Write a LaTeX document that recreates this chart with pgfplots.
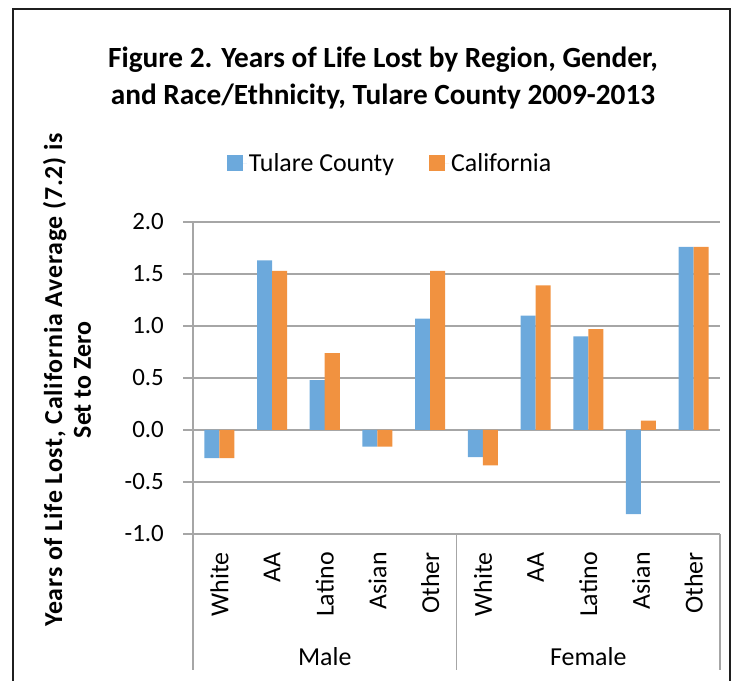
\documentclass[border=0pt]{standalone}
\usepackage{pgfplots}
\pgfplotsset{compat=1.18}
\usepackage{fontspec}
\setmainfont{Carlito}
\definecolor{tblue}{RGB}{108,169,220}
\definecolor{corange}{RGB}{241,146,64}
\definecolor{axgray}{RGB}{166,166,166}
\begin{document}
\begin{tikzpicture}[x=1bp,y=1bp]
\useasboundingbox (0,0) rectangle (736,681);
\draw[line width=2.5bp, black!88] (13,-20) -- (13,672) -- (730,672) -- (730,-20);
\node[font=\fontsize{29.4}{34}\selectfont\bfseries] at (383,621) {Figure 2. Years of Life Lost by Region, Gender,};
\node[font=\fontsize{29.4}{34}\selectfont\bfseries] at (383,584) {and Race/Ethnicity, Tulare County 2009-2013};
\node[rotate=90, font=\fontsize{26}{29}\selectfont\bfseries, align=center] at (67,301) {{\addfontfeature{LetterSpace=3}Years of Life Lost, California Average (7.2) is}\\Set to Zero};
\begin{axis}[
  at={(193bp,147bp)}, anchor=south west,
  scale only axis, width=527bp, height=312bp,
  ymin=-1, ymax=2, xmin=-0.5, xmax=9.5,
  axis lines*=left,
  axis line style={axgray, line width=1.5bp},
  ytick={-1,-0.5,0,0.5,1,1.5,2},
  /pgf/number format/fixed, /pgf/number format/fixed zerofill,
  /pgf/number format/precision=1, /pgf/number format/assume math mode=true,
  yticklabel style={font=\fontsize{25}{30}\selectfont, anchor=east, inner sep=0pt},
  yticklabel shift=19bp,
  ymajorgrids, major grid style={axgray, line width=1.5bp},
  major tick length=10bp, tick align=outside,
  ytick style={axgray, line width=1.5bp},
  xtick={0,...,9},
  xticklabels={White,AA,Latino,Asian,Other,White,AA,Latino,Asian,Other},
  xtick style={draw=none},
  xticklabel style={rotate=90, anchor=east, inner sep=0pt, font=\fontsize{26}{30}\selectfont},
  xticklabel shift=8bp,
  clip=false,
  legend columns=2,
  legend style={at={(0.374,1.189)}, anchor=center, draw=none, fill=none,
    font=\fontsize{26}{30}\selectfont, /tikz/every even column/.append style={column sep=33bp},
    nodes={inner sep=2bp}},
  legend image code/.code={\path (0bp,0bp) -- (20bp,0bp);\fill[#1,draw=none] (0bp,-8bp) rectangle (16bp,8bp);},
]
\addplot[ybar, bar width=0.285, bar shift=-0.1423, fill=tblue, draw=none] coordinates {
 (0,-0.27) (1,1.63) (2,0.48) (3,-0.16) (4,1.07)
 (5,-0.26) (6,1.10) (7,0.90) (8,-0.81) (9,1.76)};
\addplot[ybar, bar width=0.285, bar shift=0.1423, fill=corange, draw=none] coordinates {
 (0,-0.27) (1,1.53) (2,0.74) (3,-0.16) (4,1.53)
 (5,-0.34) (6,1.39) (7,0.97) (8,0.09) (9,1.76)};
\legend{Tulare County, California}
\draw[axgray, line width=1.5bp] (axis cs:-0.5,-1) -- ([yshift=-136bp]axis cs:-0.5,-1);
\draw[axgray, line width=1.5bp] (axis cs:4.5,-1) -- ([yshift=-136bp]axis cs:4.5,-1);
\draw[axgray, line width=1.5bp] (axis cs:9.5,-1) -- ([yshift=-136bp]axis cs:9.5,-1);
\node[font=\fontsize{26}{30}\selectfont] at ([yshift=-123bp]axis cs:2,-1) {Male};
\node[font=\fontsize{26}{30}\selectfont] at ([yshift=-123bp]axis cs:7,-1) {Female};
\end{axis}
\end{tikzpicture}
\end{document}
